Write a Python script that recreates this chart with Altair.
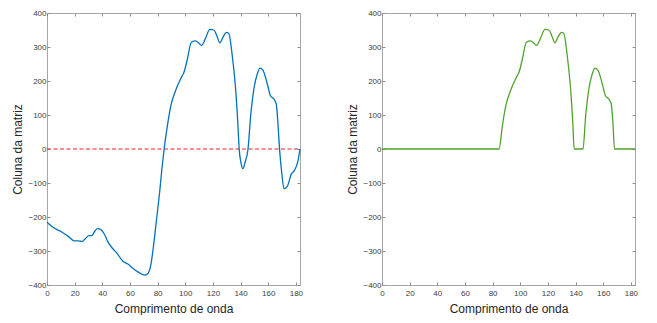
import altair as alt
import pandas as pd

# Wavelength index (x) and matrix column values
x_vals = [0, 1, 5.8, 10.6, 15.4, 19.7, 22.6, 25.5, 27.9, 30.3, 32.2, 34.7, 36.6, 39,
          41.4, 44.2, 46.7, 50.3, 55.1, 58.8, 61.6, 66, 70.8, 73.2, 75.1, 76.8, 79.2,
          81.6, 83.2, 84.7, 87.1, 89.5, 93.1, 97.9, 99.1, 101.5, 104.4, 107.5, 109.9,
          111.8, 114.7, 117.8, 120.7, 123.1, 125, 127.4, 129.8, 131.5, 133.9, 136.3,
          138, 139, 140.3, 141.7, 143.2, 145.4, 147.3, 149.7, 152.1, 154, 156.2, 159.3,
          161.7, 164.1, 165.8, 167, 168.2, 169.8, 171.4, 173.8, 176.7, 178.6, 181.5, 183]
col_vals = [-215, -219, -234, -244, -257, -270, -270, -272, -263, -255, -255, -241, -234, -237,
            -250, -274, -289, -305, -331, -339, -349, -362, -371, -365, -341, -293, -208,
            -122, -55, 0, 69, 126, 173, 216, 226, 264, 314, 318, 311,
            305, 326, 352, 350, 330, 312, 330, 343, 340, 278, 183,
            78, 0, -40, -58, -40, 0, 97, 178, 221, 238, 232, 192,
            156, 147, 133, 78, 0, -70, -117, -110, -74, -65, -36, 0]
# Right panel: the same column with negative values set to zero
pos_vals = [v if v > 0 else 0 for v in col_vals]

zero_x = [0, 183]
zero_y = [0, 0]
x_ticks = [0, 20, 40, 60, 80, 100, 120, 140, 160, 180]
y_ticks = [-400, -300, -200, -100, 0, 100, 200, 300, 400]

df_left = pd.DataFrame({"x": x_vals, "v": col_vals})
df_right = pd.DataFrame({"x": x_vals, "v": pos_vals})
df_zero = pd.DataFrame({"x": zero_x, "v": zero_y})

FONT = "Liberation Sans"
W, H = 253, 272

xscale = alt.Scale(domain=[0, 183], nice=False)
yscale = alt.Scale(domain=[-400, 400], nice=False)

common = dict(domain=False, grid=False, tickSize=3, offset=-3, tickColor="#8c8c8c",
              tickWidth=1, labelFont=FONT, labelFontSize=8, labelColor="#404040",
              titleFont=FONT, titleFontSize=12, titleFontWeight="normal", titleColor="#262626")

ax_bottom = alt.Axis(orient="bottom", values=x_ticks, labelPadding=4, labelFlush=False,
                     titlePadding=6, title="Comprimento de onda", **common)
ax_top = alt.Axis(orient="top", values=x_ticks, labels=False, title=None, **common)
ax_left = alt.Axis(orient="left", values=y_ticks, labelPadding=1, labelOverlap=False,
                   titlePadding=3, title="Coluna da matriz", **common)
ax_right = alt.Axis(orient="right", values=y_ticks, labels=False, title=None, **common)


def panel(df, color, extra=None):
    main = alt.Chart(df).mark_line(color=color, strokeWidth=1.3, interpolate="monotone").encode(
        x=alt.X("x:Q", scale=xscale, axis=ax_bottom),
        y=alt.Y("v:Q", scale=yscale, axis=ax_left),
    )
    mirror = alt.Chart(df).mark_line(strokeOpacity=0).encode(
        x=alt.X("x:Q", scale=xscale, axis=ax_top),
        y=alt.Y("v:Q", scale=yscale, axis=ax_right),
    )
    layers = [main, mirror]
    if extra is not None:
        layers.insert(0, extra)
    return alt.layer(*layers).resolve_axis(x="independent", y="independent").properties(
        width=W, height=H)


zero_line = alt.Chart(df_zero).mark_line(color="#ee2222", strokeWidth=1.2,
                                         strokeDash=[4, 2.5]).encode(
    x=alt.X("x:Q", scale=xscale, axis=None),
    y=alt.Y("v:Q", scale=yscale, axis=None),
)

left = panel(df_left, "#0072BD", extra=zero_line)
right = panel(df_right, "#4FA32D")

chart = alt.hconcat(left, right, spacing=42).properties(
    padding={"left": 3, "top": 0, "right": 5, "bottom": 0},
    background="white",
).configure_view(stroke="#a6a6a6", strokeWidth=1)

chart.save("out.html", embed_options={"renderer": "svg", "actions": False})
